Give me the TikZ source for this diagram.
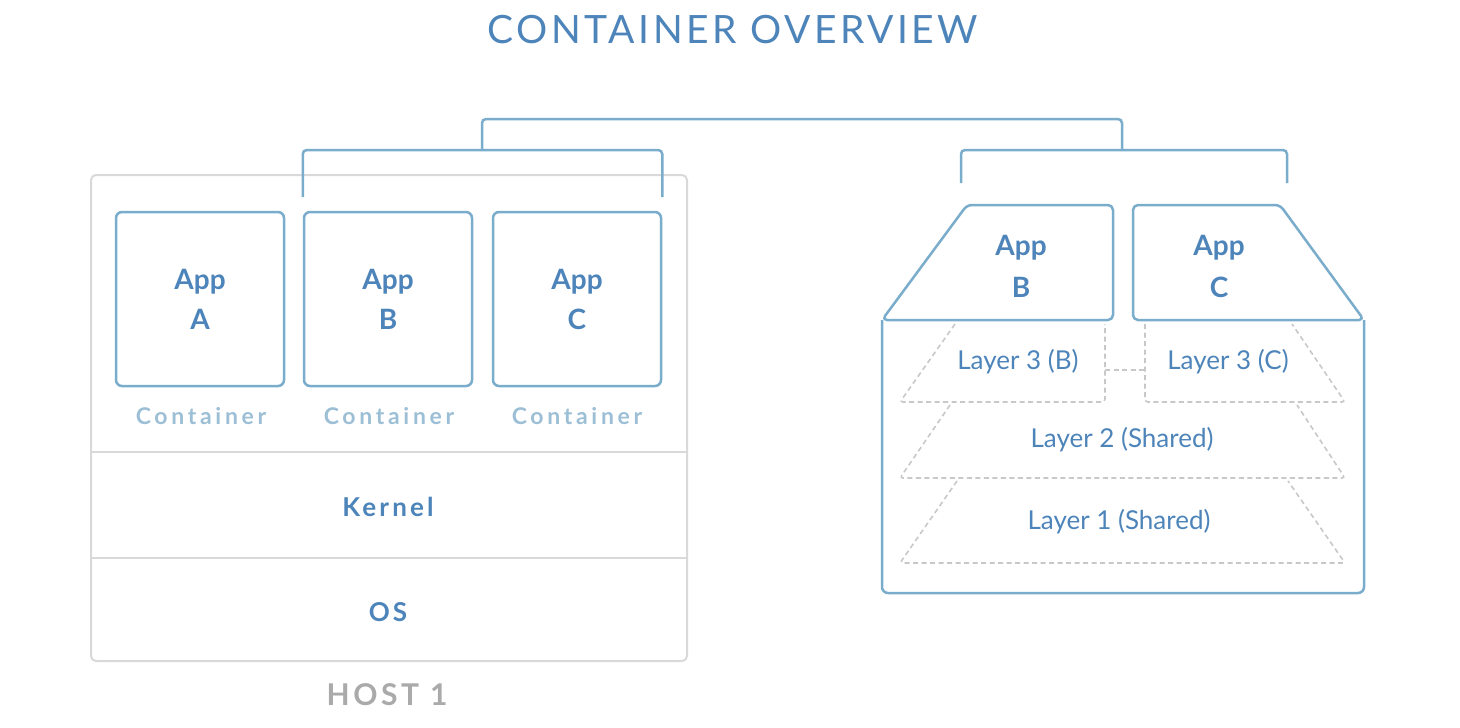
\documentclass[tikz,border=0pt]{standalone}
\usepackage{fontspec}
\setmainfont{Lato}
\newfontfamily\titlefont[LetterSpace=9]{Lato}
\newfontfamily\ctrfont[LetterSpace=16]{Lato Bold}
\newfontfamily\sysfont[LetterSpace=12]{Lato Bold}
\newfontfamily\hostfont[LetterSpace=12]{Lato Bold}
\newfontfamily\appfont{Lato Bold}
\definecolor{boxblue}{HTML}{7AACCB}
\definecolor{textblue}{HTML}{4D84B9}
\definecolor{paleblue}{HTML}{9CBFD6}
\definecolor{hostgray}{HTML}{D9D9D9}
\definecolor{labelgray}{HTML}{AAAAAA}
\definecolor{dashgray}{HTML}{C8C8C8}
\tikzset{
  hostline/.style={draw=hostgray, line width=2pt},
  appbox/.style={draw=boxblue, line width=2.5pt, rounded corners=6pt,
    minimum width=168pt, minimum height=174pt, inner sep=0pt,
    align=center, text=textblue,
    font=\appfont\fontsize{28}{40}\selectfont},
  shell/.style={draw=boxblue, line width=2.5pt, line join=round},
  bracket/.style={draw=boxblue, line width=2.5pt, rounded corners=4pt},
  layerline/.style={draw=dashgray, line width=1.6pt, dash pattern=on 5pt off 3.5pt, rounded corners=3pt},
  applabel/.style={text=textblue, align=center, font=\appfont\fontsize{28}{42}\selectfont},
  layerlabel/.style={text=textblue, font=\fontsize{26}{30}\selectfont},
  ctrlabel/.style={text=paleblue, font=\ctrfont\fontsize{23}{27}\selectfont},
  syslabel/.style={text=textblue, font=\sysfont\fontsize{26}{30}\selectfont},
}
\begin{document}
\begin{tikzpicture}[x=1pt, y=-1pt]
\useasboundingbox (0,0) rectangle (1460,728);

% title
\node[text=textblue, font=\titlefont\fontsize{39}{44}\selectfont] (title) at (733,30) {CONTAINER OVERVIEW};

% host machine with its layers
\node[draw=hostgray, line width=2pt, rounded corners=5pt, minimum width=596pt, minimum height=486pt,
  inner sep=0pt, anchor=north west] (host) at (90,174) {};
\draw[hostline] (host.west |- 0,452) -- (host.east |- 0,452);
\draw[hostline] (host.west |- 0,558) -- (host.east |- 0,558);
\node[syslabel] (kernel) at (388,507) {Kernel};
\node[syslabel] (os) at (388,612) {OS};
\node[text=labelgray, font=\hostfont\fontsize{30}{34}\selectfont] (hostlabel) at (387,695) {HOST 1};

% containers on the host
\node[appbox] (appA) at (200,299) {App\\A};
\node[appbox] (appB) at (388,299) {App\\B};
\node[appbox] (appC) at (577,299) {App\\C};
\node[ctrlabel] (ctrA) at (201,416) {Container};
\node[ctrlabel] (ctrB) at (389,416) {Container};
\node[ctrlabel] (ctrC) at (577,416) {Container};

% image with stacked layers
\draw[shell, rounded corners=5pt] (882,320) -- (967,205) -- (1113,205) -- (1113,320) -- cycle;
\draw[shell, rounded corners=5pt] (1133,320) -- (1133,205) -- (1280,205) -- (1364,320) -- cycle;
\draw[shell, rounded corners=6pt] (882,320) -- (882,593) -- (1364,593) -- (1364,320);
\node[applabel] (imgB) at (1021,266) {App\\B};
\node[applabel] (imgC) at (1219,266) {App\\C};

\draw[layerline] (955,324) -- (900,402) -- (1105,402) -- (1105,324);
\draw[layerline] (1145,324) -- (1145,402) -- (1345,402) -- (1292,324);
\node[layerlabel] (l3b) at (1018,362) {Layer 3 (B)};
\node[layerlabel] (l3c) at (1228,362) {Layer 3 (C)};
\coordinate (l3bside) at (1105,370);
\coordinate (l3cside) at (1145,370);
\draw[layerline] (l3bside) -- (l3cside);
\draw[layerline] (950,405) -- (900,478) -- (1345,478) -- (1297,405);
\node[layerlabel] (l2) at (1122,440) {Layer 2 (Shared)};
\draw[layerline] (957,481) -- (900,563) -- (1345,563) -- (1288,481);
\node[layerlabel] (l1) at (1119,522) {Layer 1 (Shared)};

% grouping brackets
\coordinate (bkL) at (appB.north west |- 0,197);
\coordinate (bkR) at (appC.north east |- 0,197);
\coordinate (bkIL) at (961,183);
\coordinate (bkIR) at (1287,183);
\draw[bracket] (bkL) -- (bkL |- 0,150) -- (bkR |- 0,150) -- (bkR);
\draw[bracket] (bkIL) -- (bkIL |- 0,150) -- (bkIR |- 0,150) -- (bkIR);
\draw[bracket] (482,150) -- (482,119) -- (1122,119) -- (1122,150);
\end{tikzpicture}
\end{document}
